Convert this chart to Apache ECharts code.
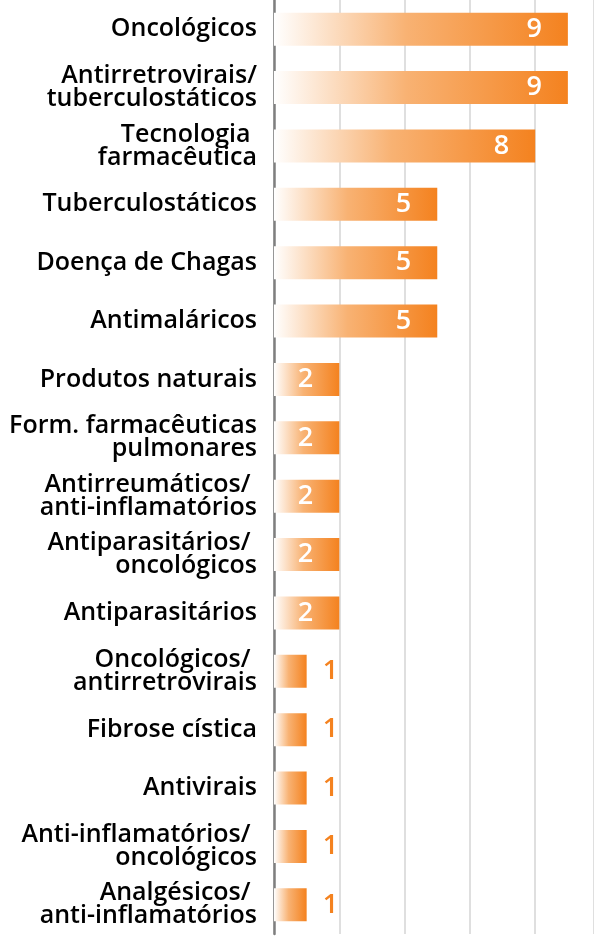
<!DOCTYPE html>
<html>
<head>
<meta charset="utf-8">
<style>
  html, body { margin: 0; padding: 0; background: #fff; }
  .chart { width: 594px; height: 946px; }
</style>
<script src="https://cdn.jsdelivr.net/npm/echarts@6/dist/echarts.min.js"></script>
</head>
<body>
<div class="chart"></div>
<script>
// categorias (de cima para baixo)
var categorias = [
  "Oncológicos",
  "Antirretrovirais/\ntuberculostáticos",
  "Tecnologia \nfarmacêutica",
  "Tuberculostáticos",
  "Doença de Chagas",
  "Antimaláricos",
  "Produtos naturais",
  "Form. farmacêuticas\npulmonares",
  "Antirreumáticos/ \nanti-inflamatórios",
  "Antiparasitários/ \noncológicos",
  "Antiparasitários",
  "Oncológicos/ \nantirretrovirais",
  "Fibrose cística",
  "Antivirais",
  "Anti-inflamatórios/ \noncológicos",
  "Analgésicos/ \nanti-inflamatórios"
];
// número de projetos
var valores = [9, 9, 8, 5, 5, 5, 2, 2, 2, 2, 2, 1, 1, 1, 1, 1];

(function() {
  var myChart = echarts.init(document.querySelector(".chart"));
  var laranja = "#f4821f";

  // gradiente branco -> laranja em cada barra
  var gradiente = new echarts.graphic.LinearGradient(0, 0, 1, 0, [
    { offset: 0, color: "#ffffff" },
    { offset: 0.45, color: "#f8b273" },
    { offset: 1, color: laranja }
  ]);

  var option = {
    animation: false,
    grid: {
      left: 274,
      right: 0,
      top: -2,
      bottom: 12
    },
    xAxis: {
      type: "value",
      min: 0,
      max: 9.8,
      interval: 2,
      axisLabel: { show: false },
      axisLine: { show: false },
      axisTick: { show: false },
      splitLine: {
        lineStyle: { color: "#d4d4d4", width: 1.5 }
      }
    },
    yAxis: {
      type: "category",
      data: categorias,
      inverse: true,
      axisTick: { show: false },
      axisLine: {
        lineStyle: { color: "#7f7f7f", width: 2.5 }
      },
      axisLabel: {
        margin: 17,
        color: "#000",
        fontFamily: "Open Sans",
        fontWeight: 600,
        fontSize: 25,
        lineHeight: 23,
        align: "right"
      }
    },
    series: [
      {
        type: "bar",
        data: valores.map(function(v) {
          // barras pequenas: rótulo laranja do lado de fora
          if (v < 2) {
            return {
              value: v,
              label: { position: "right", distance: 16, color: laranja }
            };
          }
          return v;
        }),
        barWidth: 33,
        itemStyle: { color: gradiente },
        label: {
          show: true,
          position: "insideRight",
          distance: 26,
          color: "#fff",
          fontFamily: "Open Sans",
          fontWeight: 600,
          fontSize: 27
        }
      }
    ]
  };
  myChart.setOption(option);
  window.addEventListener("resize", function() {
    myChart.resize();
  });
})();
</script>
</body>
</html>
